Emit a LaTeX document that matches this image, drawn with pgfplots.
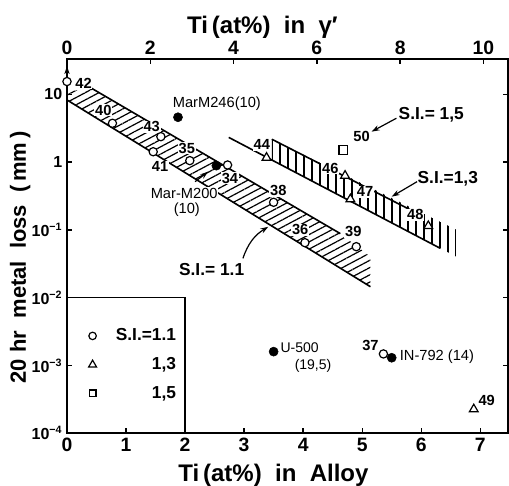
\documentclass[border=0pt]{standalone}
\usepackage{pgfplots}
\pgfplotsset{compat=1.18}
\usepackage{fontspec}
\setmainfont{Liberation Sans}
\usetikzlibrary{patterns.meta,arrows.meta}
\newcommand{\fs}[1]{\fontsize{#1}{#1}\selectfont}
\begin{document}
\begin{tikzpicture}
\begin{axis}[
  scale only axis, width=330.75pt, height=280.7pt,
  ymode=log, ymin=1e-4, ymax=33.1,
  axis line style={line width=1.2pt},
  every tick/.style={black, line width=1pt},
  major tick length=4pt,
  tick label style={font=\bfseries\fs{14.5}},
  xmin=0, xmax=7.47, clip=false,
  xtick={0,1,...,7}, xticklabels={0,1,2,3,4,5,6,7}, xtick pos=left,
  ytick={1e-4,1e-3,1e-2,1e-1,1,10}, ytick pos=both, yticklabel pos=left,
  yminorticks=false,
  yticklabels={10\textsuperscript{−4},10\textsuperscript{−3},10\textsuperscript{−2},10\textsuperscript{−1},1,10},
  yticklabel style={font=\bfseries\fs{12}},
  xlabel={Ti\,(at\%)\ \ in\ \ Alloy},
  xlabel style={at={(axis description cs:0.468,-0.130)}, anchor=base, font=\bfseries\fs{18}},
  ylabel={20 hr\ \ metal\ \ loss\ \ (\,mm\,)},
  ylabel style={at={(axis description cs:-0.106,0.47)}, anchor=center, font=\bfseries\fs{16.5}},
  legend cell align=right,
  legend style={at={(axis cs:1.13,1.03e-3)}, anchor=center, draw=none, fill=none,
    font=\bfseries\fs{13}, row sep=7pt,
    /tikz/every odd column/.append style={column sep=12.5pt}},
]
% legend
\addlegendimage{only marks, mark=o, mark size=2.8pt, line width=0.9pt}
\addlegendentry{S.I.=1.1}
\addlegendimage{only marks, mark=triangle, mark size=3.4pt, line width=0.9pt}
\addlegendentry{1,3}
\addlegendimage{only marks, mark=square, mark size=2.6pt, line width=0.9pt}
\addlegendentry{1,5}
\draw[line width=1.2pt] (axis cs:0,1e-2) -- (axis cs:2,1e-2) -- (axis cs:2,1e-4);

% band S.I. = 1.1
\addplot[draw=none, pattern={Lines[angle=28,distance=4.8pt,line width=0.9pt]}, forget plot]
  coordinates {(0,8.24)(0,10.9)(0.42,12.2)(4.63,0.088)(5.14,0.040)(5.14,0.0145)};
\addplot[line width=1.2pt, forget plot] coordinates {(0,8.24)(5.14,0.0145)};
\addplot[line width=1.2pt, forget plot] coordinates {(0.42,12.2)(4.63,0.088)};
% band S.I. = 1.3
\addplot[draw=none, pattern={Lines[angle=90,distance=6pt,line width=0.9pt]}, forget plot]
  coordinates {(3.47,2.17)(6.6,0.10)(6.6,0.040)(3.47,1.07)};
\addplot[line width=1.2pt, forget plot] coordinates {(2.74,2.31)(6.32,0.0536)};
\addplot[line width=1.2pt, forget plot] coordinates {(3.47,2.17)(6.04,0.157)};

% labels
\begin{scope}[every node/.style={fill=white, inner sep=0.6pt, font=\bfseries\fs{11}}]
\node at (axis cs:0.28,14.7) {42};
\node at (axis cs:0.615,5.86) {40};
\node at (axis cs:1.435,3.33) {43};
\node at (axis cs:2.03,1.60) {35};
\node at (axis cs:1.576,0.855) {41};
\node at (axis cs:2.76,0.576) {34};
\node at (axis cs:3.58,0.378) {38};
\node at (axis cs:3.95,0.100) {36};
\node at (axis cs:4.85,0.094) {39};
\node at (axis cs:3.30,1.79) {44};
\node at (axis cs:4.46,0.81) {46};
\node at (axis cs:5.05,0.366) {47};
\node at (axis cs:5.90,0.166) {48};
\node at (axis cs:4.99,2.37) {50};
\node at (axis cs:5.14,2.0e-3) {37};
\node at (axis cs:7.11,3.1e-4) {49};
\end{scope}
\begin{scope}[every node/.style={inner sep=0.6pt, font=\fs{11}}]
\node[anchor=west] at (axis cs:1.775,7.36) {MarM246(10)};
\node[fill=white] at (axis cs:1.985,0.347) {Mar-M200};
\node at (axis cs:2.03,0.196) {(10)};
\node[anchor=west, font=\fs{10.5}] at (axis cs:3.60,1.85e-3) {U-500};
\node[anchor=west, font=\fs{10.5}] at (axis cs:3.84,0.98e-3) {(19,5)};
\node[anchor=west] at (axis cs:5.62,1.35e-3) {IN-792 (14)};
\end{scope}
\begin{scope}[every node/.style={inner sep=0.6pt, font=\bfseries\fs{13}}]
\node at (axis cs:6.17,4.95) {S.I.= 1,5};
\node at (axis cs:6.45,0.576) {S.I.=1,3};
\node at (axis cs:2.45,0.0256) {S.I.= 1.1};
\end{scope}
% arrows
\begin{scope}[line width=0.9pt, -{Stealth[length=6pt,width=4pt]}]
\draw (axis cs:2.98,0.038) to[bend left=20] (axis cs:3.41,0.111);
\draw (axis cs:5.58,4.43) -- (axis cs:5.16,2.81);
\draw (axis cs:5.93,0.514) -- (axis cs:5.50,0.309);
\draw (axis cs:2.17,0.514) -- (axis cs:2.39,0.721);
\draw (axis cs:0,17.6) -- (axis cs:0,26);
\end{scope}

% data: open circles (S.I. = 1.1)
\addplot[only marks, mark=*, mark size=3.1pt, mark options={fill=white, draw=black, line width=0.9pt}, forget plot]
  coordinates {(0,15.4)(0.77,3.73)(1.59,2.37)(1.46,1.42)(2.08,1.05)(2.72,0.905)
               (3.50,0.255)(4.03,0.0647)(4.90,0.0565)(5.36,1.48e-3)};
% filled circles (commercial alloys)
\addplot[only marks, mark=*, mark size=3.4pt, mark options={fill=black, draw=black}, forget plot]
  coordinates {(1.88,4.58)(2.53,0.885)(3.50,1.6e-3)(5.50,1.3e-3)};
% triangles (S.I. = 1.3)
\addplot[only marks, mark=triangle*, mark size=3.8pt, mark options={fill=white, draw=black, line width=0.9pt}, forget plot]
  coordinates {(3.38,1.16)(4.71,0.63)(4.80,0.283)(6.12,0.114)(6.89,2.26e-4)};
% square (S.I. = 1.5)
\addplot[only marks, mark=square*, mark size=3.2pt, mark options={fill=white, draw=black, line width=0.9pt}, forget plot]
  coordinates {(4.68,1.51)};
\end{axis}
\begin{axis}[
  scale only axis, width=330.75pt, height=280.7pt,
  ymode=log, ymin=1e-4, ymax=33.1,
  axis line style={line width=1.2pt},
  every tick/.style={black, line width=1pt},
  major tick length=4pt,
  tick label style={font=\bfseries\fs{14.5}},
  xmin=0, xmax=10.59, axis x line*=top, axis y line=none,
  xtick={0,2,...,10}, xticklabels={0,2,4,6,8,10},
  xlabel={Ti\,(at\%)\ \ in\ \ γ′},
  xlabel style={at={(axis description cs:0.443,1.0687)}, anchor=base, font=\bfseries\fs{18}}]
\addplot[draw=none] coordinates {(1,1)};
\end{axis}
\pgfresetboundingbox
\path[use as bounding box] ([xshift=-50.25pt,yshift=-39.5pt]current axis.south west) rectangle ([xshift=0.75pt,yshift=44.25pt]current axis.north east);
\end{tikzpicture}
\end{document}
